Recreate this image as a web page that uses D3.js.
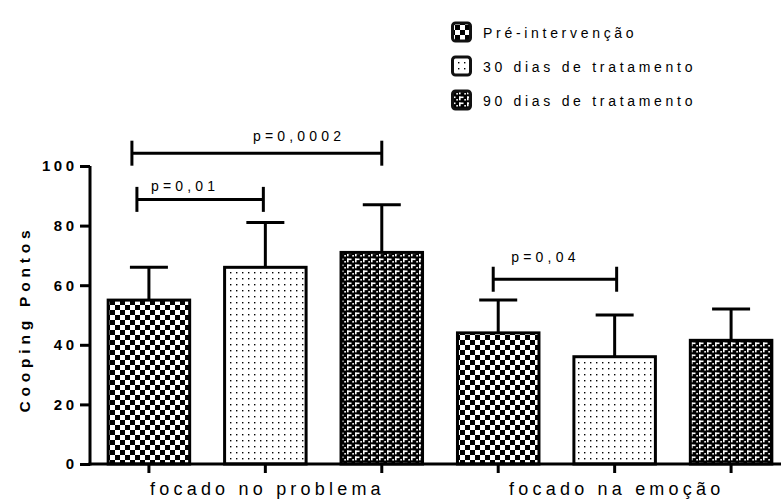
<!DOCTYPE html>
<html>
<head>
<meta charset="utf-8">
<script src="https://cdn.jsdelivr.net/npm/d3@7/dist/d3.min.js"></script>
<style>
  html, body { margin: 0; padding: 0; background: #fff; }
  svg { display: block; font-family: "Liberation Sans", Arial, sans-serif; }
</style>
</head>
<body>
<svg id="chart" width="781" height="503"></svg>
<script>
// Coping scores per group and assessment time (mean and SD)
const categories = ["focado no problema", "focado na emoção"];
const series = ["Pré-intervenção", "30 dias de tratamento", "90 dias de tratamento"];
const meanProblema = [55, 66, 71];
const sdProblema = [11, 15, 16];
const meanEmocao = [44, 36, 41.5];
const sdEmocao = [11, 14, 10.5];
const yTicks = [0, 20, 40, 60, 80, 100];
const yTitle = "Cooping Pontos";

// Significance brackets: bars compared (index into the flat bar list), p-value text, bracket height in score units
const compFrom = [0, 0, 3];
const compTo = [2, 1, 4];
const compLabel = ["p=0,0002", "p=0,01", "p=0,04"];
const compLevel = [104.3, 88.8, 62];

// Flat bar list built from the arrays above
const bars = [];
categories.forEach((cat, gi) => {
  const m = gi === 0 ? meanProblema : meanEmocao;
  const s = gi === 0 ? sdProblema : sdEmocao;
  series.forEach((ser, si) => {
    bars.push({ key: gi + "-" + si, group: gi, series: si, mean: m[si], sd: s[si] });
  });
});

const svg = d3.select("#chart");

// Fill patterns, one per series
const defs = svg.append("defs");
const pChecker = defs.append("pattern").attr("id", "pat0")
  .attr("patternUnits", "userSpaceOnUse").attr("width", 10).attr("height", 10);
pChecker.append("rect").attr("width", 10).attr("height", 10).attr("fill", "#fff");
pChecker.append("rect").attr("x", 0).attr("y", 0).attr("width", 5).attr("height", 5).attr("fill", "#000");
pChecker.append("rect").attr("x", 5).attr("y", 5).attr("width", 5).attr("height", 5).attr("fill", "#000");

const pDots = defs.append("pattern").attr("id", "pat1")
  .attr("patternUnits", "userSpaceOnUse").attr("width", 6).attr("height", 6);
pDots.append("rect").attr("width", 6).attr("height", 6).attr("fill", "#fff");
pDots.append("rect").attr("x", 2).attr("y", 2).attr("width", 1.4).attr("height", 1.4).attr("fill", "#000");

const pHatch = defs.append("pattern").attr("id", "pat2")
  .attr("patternUnits", "userSpaceOnUse").attr("width", 8).attr("height", 6);
pHatch.append("rect").attr("width", 8).attr("height", 6).attr("fill", "#000");
pHatch.append("rect").attr("x", 3).attr("y", 0.5).attr("width", 4.5).attr("height", 1.6).attr("fill", "#fff");
pHatch.append("rect").attr("x", 3).attr("y", 0.5).attr("width", 1.6).attr("height", 3.8).attr("fill", "#fff");
pHatch.append("rect").attr("x", 0.3).attr("y", 3).attr("width", 1.6).attr("height", 1.6).attr("fill", "#fff");

const fills = ["url(#pat0)", "url(#pat1)", "url(#pat2)"];

// Scales
const x = d3.scaleBand()
  .domain(bars.map(d => d.key))
  .range([90, 790])
  .paddingInner(0.3)
  .paddingOuter(0.156);
const y = d3.scaleLinear().domain([0, 100]).range([464, 166]);

const ink = "#000";

// Error bars (upper whisker only)
const capW = 38;
const eb = svg.append("g");
eb.selectAll("line.whisker").data(bars).join("line")
  .attr("x1", d => x(d.key) + x.bandwidth() / 2)
  .attr("x2", d => x(d.key) + x.bandwidth() / 2)
  .attr("y1", d => y(d.mean))
  .attr("y2", d => y(d.mean + d.sd))
  .attr("stroke", ink).attr("stroke-width", 3);
eb.selectAll("line.cap").data(bars).join("line")
  .attr("x1", d => x(d.key) + x.bandwidth() / 2 - capW / 2)
  .attr("x2", d => x(d.key) + x.bandwidth() / 2 + capW / 2)
  .attr("y1", d => y(d.mean + d.sd))
  .attr("y2", d => y(d.mean + d.sd))
  .attr("stroke", ink).attr("stroke-width", 3);

// Bars
svg.append("g").selectAll("rect").data(bars).join("rect")
  .attr("x", d => x(d.key))
  .attr("width", x.bandwidth())
  .attr("y", d => y(d.mean))
  .attr("height", d => y(0) - y(d.mean))
  .attr("fill", d => fills[d.series])
  .attr("stroke", ink)
  .attr("stroke-width", 3);

// Y axis
const yAxis = svg.append("g")
  .attr("transform", "translate(90,0)")
  .call(d3.axisLeft(y).tickValues(yTicks).tickSize(10).tickPadding(6).tickFormat(d3.format("d")));
yAxis.select(".domain").attr("stroke", ink).attr("stroke-width", 3).attr("d", `M0,${y(0) + 1.5}V${y(100)}`);
yAxis.selectAll(".tick line").attr("stroke", ink).attr("stroke-width", 3);
yAxis.selectAll(".tick text")
  .attr("fill", ink)
  .style("font-size", "15px")
  .style("font-weight", "bold")
  .style("letter-spacing", "3.5px")
  .attr("dx", "3.5px")
  .style("font-family", "'Liberation Sans', Arial, sans-serif");

// X axis: baseline and one tick per bar
const xAxisG = svg.append("g").attr("transform", `translate(0,${y(0)})`);
xAxisG.append("line").attr("x1", 88.5).attr("x2", 790).attr("y1", 0).attr("y2", 0)
  .attr("stroke", ink).attr("stroke-width", 3);
xAxisG.selectAll("line.xt").data(bars).join("line")
  .attr("class", "xt")
  .attr("x1", d => x(d.key) + x.bandwidth() / 2)
  .attr("x2", d => x(d.key) + x.bandwidth() / 2)
  .attr("y1", 0).attr("y2", 9)
  .attr("stroke", ink).attr("stroke-width", 3);

// Group labels centred under the middle bar of each group
const xLs = 4.2;
svg.append("g").selectAll("text").data(categories).join("text")
  .attr("x", (d, i) => x(i + "-1") + x.bandwidth() / 2 + xLs / 2)
  .attr("y", 495)
  .attr("text-anchor", "middle")
  .style("font-size", "18px")
  .style("letter-spacing", xLs + "px")
  .attr("fill", ink)
  .text(d => d);

// Y title
svg.append("text")
  .attr("transform", `translate(30,${(y(0) + y(100)) / 2 + 4}) rotate(-90)`)
  .attr("text-anchor", "middle")
  .style("font-size", "15.5px")
  .style("font-weight", "bold")
  .style("letter-spacing", "4.8px")
  .attr("fill", ink)
  .text(yTitle);

// Significance brackets
const bracketShift = [[-17, 0], [-12, -2], [-5, 2]];
const labelDx = [121, 14, 18];
const labelDy = [-12, -8, -17.5];
const br = svg.append("g");
compLabel.forEach((lab, i) => {
  const a = bars[compFrom[i]], b = bars[compTo[i]];
  const x1 = x(a.key) + x.bandwidth() / 2 + bracketShift[i][0];
  const x2 = x(b.key) + x.bandwidth() / 2 + bracketShift[i][1];
  const yy = y(compLevel[i]);
  br.append("line").attr("x1", x1).attr("x2", x2).attr("y1", yy).attr("y2", yy)
    .attr("stroke", ink).attr("stroke-width", 3);
  [x1, x2].forEach(xx => {
    br.append("line").attr("x1", xx).attr("x2", xx).attr("y1", yy - 12.5).attr("y2", yy + 12.5)
      .attr("stroke", ink).attr("stroke-width", 3);
  });
  br.append("text")
    .attr("x", x1 + labelDx[i])
    .attr("y", yy + labelDy[i])
    .style("font-size", "14px")
    .style("letter-spacing", "4.2px")
    .attr("fill", ink)
    .text(lab);
});

// Legend
const legendRowY = [32.5, 66.5, 100.5];
const lg = svg.append("g");
series.forEach((s, i) => {
  lg.append("rect")
    .attr("x", 452.5).attr("y", legendRowY[i] - 9.5)
    .attr("width", 18).attr("height", 18)
    .attr("rx", 3).attr("ry", 3)
    .attr("fill", fills[i])
    .attr("stroke", "#111").attr("stroke-width", 3);
  lg.append("text")
    .attr("x", 483).attr("y", legendRowY[i] + 5)
    .style("font-size", "14px")
    .style("letter-spacing", "3.7px")
    .attr("fill", ink)
    .text(s);
});
</script>
</body>
</html>
